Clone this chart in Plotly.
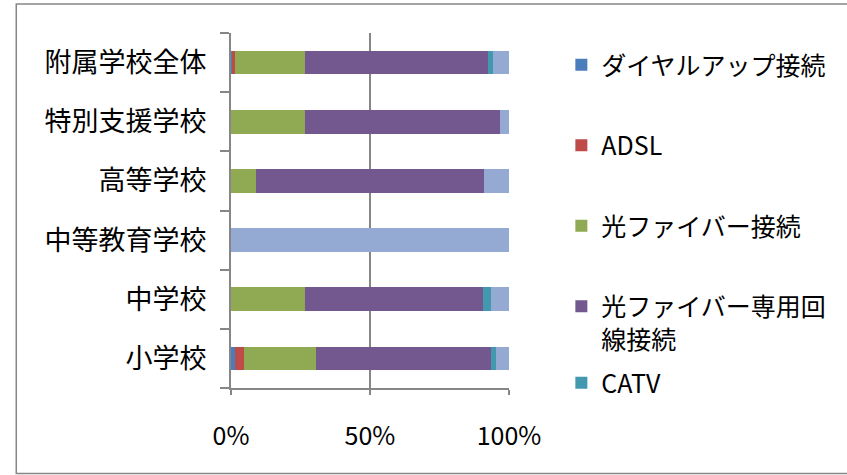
import plotly.graph_objects as go

# ---- data (percent) ----
categories = ["小学校", "中学校", "中等教育学校", "高等学校", "特別支援学校", "附属学校全体"]
series_names = ["ダイヤルアップ接続", "ADSL", "光ファイバー接続", "光ファイバー専用回<br>線接続", "CATV", "その他"]
dialup = [1.5, 0, 0, 0, 0, 0.4]
adsl = [3.1, 0, 0, 0, 0, 1.2]
fiber = [25.8, 26.7, 0, 9.1, 26.7, 25.1]
fiber_dedicated = [63.0, 63.8, 0, 81.8, 70.2, 65.6]
catv = [1.8, 3.1, 0, 0, 0, 2.0]
other = [4.8, 6.4, 100, 9.1, 3.1, 5.7]
tick_vals = [0, 50, 100]
tick_text = ["0%", "50%", "100%"]

colors = ["#4A7EBB", "#BE4B48", "#8FAA52", "#72588E", "#4298AF", "#94AAD2"]
values = [dialup, adsl, fiber, fiber_dedicated, catv, other]

# body margin is removed by the post script, so figure px == screen px
W, H = 847, 475
L, R, T, B = 231, 508.7, 33, 388
FONT = "Noto Sans CJK JP"
GRAY = "#868686"

def px2x(sx):
    return (sx - L) / (R - L)

def px2y(sy):
    return (B - sy) / (B - T)

fig = go.Figure()
for i, (name, vals, col) in enumerate(zip(series_names, values, colors)):
    fig.add_trace(go.Bar(
        y=categories, x=vals, name=name, orientation="h",
        marker=dict(color=col, line=dict(width=0)),
        legendgroup=f"g{i}",
        showlegend=(i < 5),
        legend="legend2" if i == 4 else "legend",
    ))

fig.update_layout(
    width=W, height=H, autosize=False,
    margin=dict(l=L, r=W - R, t=T, b=H - B, pad=0, autoexpand=False),
    paper_bgcolor="white", plot_bgcolor="white",
    barmode="stack", bargap=0.6,
    font=dict(family=FONT, size=25, color="black"),
    showlegend=True,
    legend=dict(
        x=px2x(561), y=px2y(42), xanchor="left", yanchor="top",
        traceorder="grouped", tracegroupgap=45, valign="top",
        font=dict(family=FONT, size=25, color="black"),
        bgcolor="rgba(0,0,0,0)",
    ),
    legend2=dict(
        x=px2x(561), y=px2y(360), xanchor="left", yanchor="top",
        font=dict(family=FONT, size=25, color="black"),
        bgcolor="rgba(0,0,0,0)",
    ),
    xaxis=dict(
        range=[0, 100], tickvals=tick_vals, ticktext=tick_text,
        showgrid=True, gridcolor=GRAY, gridwidth=2,
        showline=True, linecolor=GRAY, linewidth=2,
        ticks="outside", ticklen=5, tickcolor=GRAY, tickwidth=2,
        ticklabelstandoff=20, tickfont=dict(size=25),
        zeroline=False, fixedrange=True,
    ),
    yaxis=dict(
        type="category", categoryorder="array", categoryarray=categories,
        showline=True, linecolor=GRAY, linewidth=2,
        ticks="outside", ticklen=9, tickcolor=GRAY, tickwidth=2,
        tickson="boundaries", ticklabelstandoff=17, tickfont=dict(size=27),
        showgrid=False, zeroline=False, fixedrange=True,
    ),
    shapes=[dict(
        type="rect", xref="paper", yref="paper",
        x0=px2x(16.5), x1=px2x(870), y0=px2y(473.5), y1=px2y(4),
        line=dict(color=GRAY, width=1.5), fillcolor="rgba(0,0,0,0)", layer="below",
    )],
)

fig.write_html(
    "out.html",
    config={"displayModeBar": False},
    post_script="document.body.style.margin='0';document.body.style.overflow='hidden';",
)
